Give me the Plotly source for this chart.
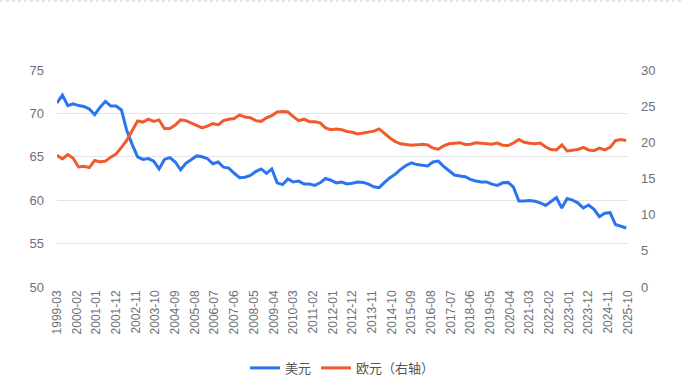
import pandas as pd
import plotly.graph_objects as go

dates = pd.date_range("1999-03-01", periods=107, freq="3MS")

usd = [71.2, 72.1, 70.9, 71.1, 70.9, 70.8, 70.5, 69.85, 70.7, 71.4,
       70.85, 70.85, 70.4, 68.0, 66.4, 65.0, 64.7, 64.8, 64.5, 63.6,
       64.7, 64.9, 64.4, 63.5, 64.25, 64.7, 65.1, 65.0, 64.8, 64.2,
       64.4, 63.8, 63.7, 63.1, 62.6, 62.65, 62.85, 63.3, 63.6, 63.1,
       63.6, 62.0, 61.8, 62.45, 62.1, 62.2, 61.87, 61.87, 61.7, 62.0,
       62.5, 62.3, 62.0, 62.1, 61.87, 61.95, 62.1, 62.05, 61.85, 61.55,
       61.45, 62.05, 62.6, 63.0, 63.56, 64.0, 64.3, 64.1, 64.0, 63.95,
       64.4, 64.5, 63.9, 63.45, 62.9, 62.8, 62.7, 62.4, 62.2, 62.1,
       62.1, 61.85, 61.7, 62.0, 62.05, 61.5, 59.9, 59.9, 59.95, 59.87,
       59.7, 59.4, 59.8, 60.3, 59.1, 60.2, 60.0, 59.7, 59.1, 59.45,
       58.95, 58.1, 58.5, 58.56, 57.2, 57.03, 56.8]

eur = [18.2, 17.7, 18.3, 17.8, 16.6, 16.7, 16.5, 17.5, 17.3, 17.4,
       17.95, 18.4, 19.3, 20.3, 21.65, 22.95, 22.8, 23.2, 22.9, 23.1,
       21.9, 21.9, 22.4, 23.1, 23.0, 22.7, 22.3, 22.0, 22.25, 22.6,
       22.4, 23.0, 23.2, 23.3, 23.8, 23.5, 23.4, 23.0, 22.9, 23.4,
       23.7, 24.2, 24.25, 24.2, 23.55, 23.0, 23.2, 22.85, 22.85, 22.7,
       22.0, 21.75, 21.85, 21.75, 21.5, 21.4, 21.15, 21.25, 21.35, 21.55,
       21.85, 21.2, 20.6, 20.1, 19.8, 19.7, 19.6, 19.65, 19.75, 19.65,
       19.2, 19.05, 19.5, 19.8, 19.87, 19.95, 19.7, 19.75, 19.95, 19.85,
       19.75, 19.75, 19.9, 19.6, 19.55, 19.9, 20.4, 20.0, 19.87, 19.8,
       19.9, 19.35, 19.0, 18.94, 19.65, 18.8, 18.9, 19.0, 19.3, 18.95,
       18.85, 19.2, 18.95, 19.3, 20.25, 20.4, 20.25]

tick_labels = ["1999-03", "2000-02", "2001-01", "2001-12", "2002-11", "2003-10",
               "2004-09", "2005-08", "2006-07", "2007-06", "2008-05", "2009-04",
               "2010-03", "2011-02", "2012-01", "2012-12", "2013-11", "2014-10",
               "2015-09", "2016-08", "2017-07", "2018-06", "2019-05", "2020-04",
               "2021-03", "2022-02", "2023-01", "2023-12", "2024-11", "2025-10"]
tick_vals = [t + "-01" for t in tick_labels]

FONT = "Liberation Sans, Noto Sans CJK SC, sans-serif"
GRAY = "#6e7079"

fig = go.Figure()
fig.add_trace(go.Scatter(x=dates, y=usd, name="美元", mode="lines",
                         line=dict(color="#2b74f0", width=3)))
fig.add_trace(go.Scatter(x=dates, y=eur, name="欧元（右轴）", mode="lines",
                         line=dict(color="#f25a2b", width=3), yaxis="y2"))

fig.update_layout(
    width=682, height=384,
    margin=dict(l=57, r=54, t=70, b=97, autoexpand=False),
    paper_bgcolor="white", plot_bgcolor="white",
    font=dict(family=FONT, color=GRAY, size=13),
    showlegend=True,
    legend=dict(orientation="h", x=0.5, xanchor="center", y=-0.373, yanchor="middle",
                font=dict(size=13, color="#555555"), itemwidth=30,
                tracegroupgap=0),
    xaxis=dict(type="date", range=["1999-03-01", "2025-10-01"],
               tickvals=tick_vals, ticktext=tick_labels, tickangle=-90,
               tickfont=dict(size=12, color=GRAY), showgrid=False,
               showline=False, zeroline=False, ticks="", automargin=False),
    yaxis=dict(range=[50, 75], dtick=5, showgrid=True, gridcolor="#e3e3e3",
               gridwidth=1, zeroline=False, showline=False, ticks="",
               ticklabelstandoff=12, tickfont=dict(size=13, color=GRAY),
               automargin=False),
    yaxis2=dict(range=[0, 30], dtick=5, overlaying="y", side="right",
                showgrid=False, zeroline=False, showline=False, ticks="",
                ticklabelstandoff=12, tickfont=dict(size=13, color=GRAY),
                automargin=False),
    shapes=[dict(type="line", xref="paper", yref="paper",
                 x0=-0.1, x1=1.1, y0=1.318, y1=1.318,
                 line=dict(color="#c8c8c8", width=1, dash="dot"))],
)

fig.write_html("out.html",
               config={"displayModeBar": False},
               post_script="document.body.style.margin='0';document.body.style.overflow='hidden';")
